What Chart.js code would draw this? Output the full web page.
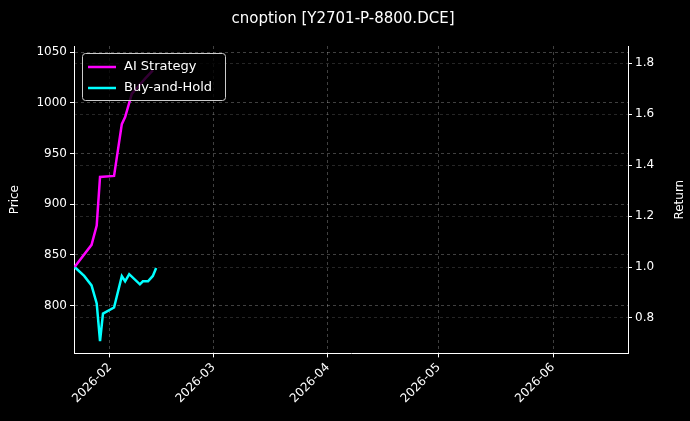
<!DOCTYPE html>
<html><head><script src="https://cdn.jsdelivr.net/npm/chart.js@4"></script>
<style>body{margin:0;background:#000}#w{width:690px;height:421px}</style></head>
<body><div id="w"><canvas id="c"></canvas></div>
<script>
const titleText = "cnoption [Y2701-P-8800.DCE]";
const aiDays = [21.4,26.0,27.4,28.3,32.1,34.2,35.1,36.9,38.6,40.5,42.6];
const aiReturn = [1.0,1.087,1.163,1.354,1.358,1.561,1.589,1.680,1.708,1.740,1.772];
const bhDays = [21.4,24.0,26.0,27.4,28.3,29.1,32.1,34.2,35.1,36.2,39.1,39.9,41.3,42.6,43.5];
const bhReturn = [1.0,0.965,0.928,0.857,0.709,0.817,0.841,0.964,0.944,0.972,0.932,0.944,0.944,0.965,0.996];
const tickDays = [31,59,90,120,151];
const tickLabels = ["2026-02","2026-03","2026-04","2026-05","2026-06"];
const grid = {color:'rgba(255,255,255,0.25)', tickColor:'#fff', drawTicks:true, tickLength:4};
const legendPlugin = {id:'lg', afterDraw(ch){
  const a=ch.chartArea, c=ch.ctx; const x=a.left+8, y=a.top+7;
  c.save(); c.fillStyle='rgba(0,0,0,0.8)'; c.strokeStyle='#ccc'; c.lineWidth=1;
  c.beginPath(); c.roundRect(x+0.5,y+0.5,143,47,3); c.fill(); c.stroke();
  c.font='13px "DejaVu Sans"'; c.textBaseline='middle'; c.lineWidth=2.5;
  [['AI Strategy','#ff00ff'],['Buy-and-Hold','#00ffff']].forEach((d,i)=>{
    const yy=y+14+i*21; c.strokeStyle=d[1]; c.beginPath(); c.moveTo(x+6,yy); c.lineTo(x+34,yy); c.stroke();
    c.fillStyle='#fff'; c.fillText(d[0],x+42,yy);});
  c.save(); c.translate(a.right+52,(a.top+a.bottom)/2); c.rotate(-Math.PI/2);
  c.textAlign='center'; c.font='12px "DejaVu Sans"'; c.fillText('Return',0,0); c.restore();
  c.restore();}};
new Chart(document.getElementById('c'),{type:'line',
 data:{datasets:[
  {label:'AI Strategy',data:aiDays.map((d,i)=>({x:d,y:aiReturn[i]})),borderColor:'#ff00ff',borderWidth:2.5,pointRadius:0,yAxisID:'yR'},
  {label:'Buy-and-Hold',data:bhDays.map((d,i)=>({x:d,y:bhReturn[i]})),borderColor:'#00ffff',borderWidth:2.5,pointRadius:0,yAxisID:'yR'}]},
 options:{responsive:true,maintainAspectRatio:false,animation:false,
  layout:{padding:{top:4,right:8,left:4,bottom:12}},
  plugins:{legend:{display:false},title:{display:true,text:titleText,color:'#fff',font:{size:15,family:'DejaVu Sans',weight:'normal'},padding:{top:6,bottom:18}}},
  scales:{
   x:{type:'linear',min:21.25,max:171.3,grid:{...grid},border:{color:'#fff',dash:[3,3]},
      afterBuildTicks(s){s.ticks=tickDays.map(v=>({value:v}));},
      ticks:{color:'#fff',font:{size:12,family:'DejaVu Sans'},maxRotation:45,minRotation:45,callback(v){const i=tickDays.indexOf(v);return i>=0?tickLabels[i]:'';}}},
   y:{position:'left',min:753,max:1056,grid:{...grid},border:{color:'#fff',dash:[3,3]},
      afterBuildTicks(s){s.ticks=[800,850,900,950,1000,1050].map(v=>({value:v}));},
      title:{display:true,text:'Price',color:'#fff',font:{size:12,family:'DejaVu Sans'}},
      ticks:{color:'#fff',font:{size:12,family:'DejaVu Sans'},callback:v=>String(v)},afterFit(s){s.width=70;}},
   yR:{position:'right',min:0.661,max:1.868,grid:{drawOnChartArea:true,color:'rgba(255,255,255,0.15)',tickColor:'#fff',tickLength:4},border:{color:'#fff',dash:[3,3]},
      afterBuildTicks(s){s.ticks=[0.8,1.0,1.2,1.4,1.6,1.8].map(v=>({value:v}));},
      ticks:{color:'#fff',font:{size:12,family:'DejaVu Sans'},callback:v=>v.toFixed(1)},afterFit(s){s.width=54;}}
  }},
 plugins:[legendPlugin]});
</script></body></html>
